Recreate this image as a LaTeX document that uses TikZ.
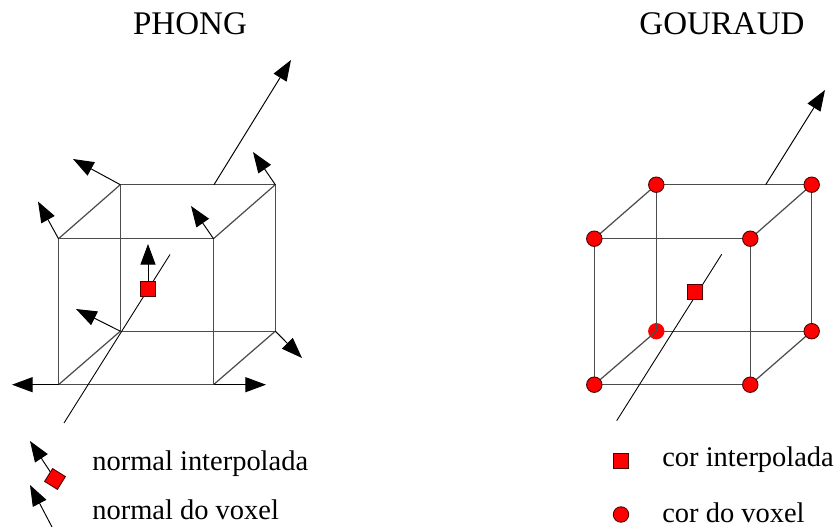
\documentclass[tikz,border=0pt]{standalone}
\usepackage{fontspec}
\setmainfont{Liberation Serif}
\usetikzlibrary{arrows.meta}
\definecolor{voxRed}{HTML}{FF0000}
\tikzset{
  edgeline/.style={line width=0.7pt, black!70},
  rayline/.style={line width=0.5pt, black},
  normalarrow/.style={line width=0.55pt, -{Triangle[length=11.8pt,width=8.6pt]}},
  interpbox/.style={draw=black!70!red, fill=voxRed, line width=0.5pt, minimum size=8.6pt, inner sep=0pt},
  voxeldot/.style={circle, draw=black!70!red, fill=voxRed, line width=0.5pt, minimum size=8.8pt, inner sep=0pt},
  caption/.style={font=\fontsize{16.2}{18}\selectfont, anchor=base west, inner sep=0pt},
  title/.style={font=\fontsize{18.8}{20}\selectfont, anchor=base, inner sep=0pt}
}
\begin{document}
\begin{tikzpicture}[x=0.02cm,y=-0.02cm]
\useasboundingbox (0,0) rectangle (840,527);
\node[title] (phong) at (190,35) {PHONG};
\node[title] (gouraud) at (722,35) {GOURAUD};
% left cube
\coordinate (fa) at (58.5,238.7);
\coordinate (fb) at (213.5,238.7);
\coordinate (fc) at (213.5,384.7);
\coordinate (fd) at (58.5,384.7);
\coordinate (ba) at (120.3,184.7);
\coordinate (bb) at (275.3,184.7);
\coordinate (bc) at (275.3,331.2);
\coordinate (bd) at (120.3,331.2);
\draw[edgeline] (fa) -- (fb) -- (fc) -- (fd) -- cycle;
\draw[edgeline] (ba) -- (bb) -- (bc) -- (bd) -- cycle;
\draw[edgeline] (fa) -- (ba);
\draw[edgeline] (fb) -- (bb);
\draw[edgeline] (fc) -- (bc);
\draw[edgeline] (fd) -- (bd);
% viewing ray, left
\coordinate (raystart) at (64,423);
\coordinate (rayend) at (170,254.5);
\coordinate (rayout) at (214,184.7);
\coordinate (raytip) at (291,60);
\draw[rayline] (raystart) -- (rayend);
\draw[normalarrow] (rayout) -- (raytip);
% normals at the corners
\coordinate (nfa) at (38,201.5);
\coordinate (nba) at (73,159);
\coordinate (nbb) at (253,152);
\coordinate (nfb) at (191,206);
\coordinate (nbd) at (76,309);
\coordinate (nbc) at (302,358);
\coordinate (nfdl) at (12,384.7);
\coordinate (nfcr) at (266,384.7);
\draw[normalarrow] (fa) -- (nfa);
\draw[normalarrow] (ba) -- (nba);
\draw[normalarrow] (bb) -- (nbb);
\draw[normalarrow] (fb) -- (nfb);
\draw[normalarrow] (bd) -- (nbd);
\draw[normalarrow] (bc) -- (nbc);
\draw[normalarrow] (fd) -- (nfdl);
\draw[normalarrow] (fc) -- (nfcr);
\node[interpbox] (hit) at (148,288.7) {};
\coordinate (nhit) at (148,244);
\draw[normalarrow] (hit) -- (nhit);
% legend, left
\node[interpbox, rotate=-32] (keybox) at (55,479) {};
\coordinate (nkey) at (30,441);
\draw[normalarrow] (keybox) -- (nkey);
\coordinate (vkeystart) at (52,527);
\coordinate (vkeytip) at (30,485);
\draw[normalarrow] (vkeystart) -- (vkeytip);
\node[caption] (normint) at (92,470.7) {normal interpolada};
\node[caption] (normvox) at (92,519.5) {normal do voxel};
% right cube
\coordinate (ga) at (594.3,238.7);
\coordinate (gb) at (750.3,238.7);
\coordinate (gc) at (750.3,384.7);
\coordinate (gd) at (594.3,384.7);
\coordinate (ha) at (656.3,184.7);
\coordinate (hb) at (811.7,184.7);
\coordinate (hc) at (811.7,331.2);
\coordinate (hd) at (656.3,331.2);
\node[circle, fill=voxRed, minimum size=9.3pt, inner sep=0pt] (dothd) at (hd) {};
\draw[edgeline] (ga) -- (gb) -- (gc) -- (gd) -- cycle;
\draw[edgeline] (ha) -- (hb) -- (hc) -- (hd) -- cycle;
\draw[edgeline] (ga) -- (ha);
\draw[edgeline] (gb) -- (hb);
\draw[edgeline] (gc) -- (hc);
\draw[edgeline] (gd) -- (hd);
\foreach \corner in {ga,gb,gc,gd,ha,hb,hc}
  \node[voxeldot] (dot\corner) at (\corner) {};
% viewing ray, right
\coordinate (gstart) at (616.7,420.7);
\coordinate (gend) at (721.7,254.3);
\coordinate (gout) at (765.7,184.7);
\coordinate (gtip) at (825,90);
\draw[rayline] (gstart) -- (gend);
\draw[normalarrow] (gout) -- (gtip);
\node[interpbox] (ghit) at (695.3,292) {};
% legend, right
\node[interpbox] (keysq) at (621,461) {};
\node[voxeldot] (keydot) at (621,514.5) {};
\node[caption] (corint) at (662,467) {cor interpolada};
\node[caption] (corvox) at (662,522.5) {cor do voxel};
\end{tikzpicture}
\end{document}
